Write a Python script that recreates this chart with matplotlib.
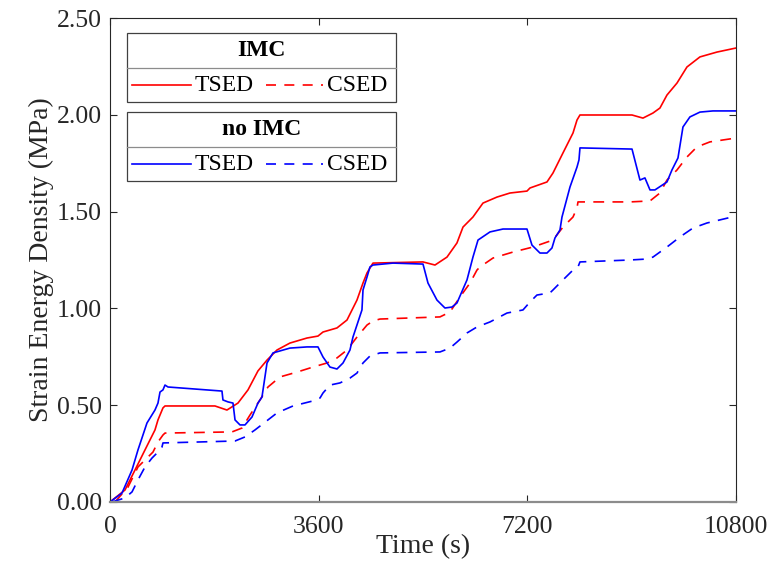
import matplotlib
matplotlib.use("Agg")
import matplotlib.pyplot as plt
from matplotlib.patches import Rectangle
from matplotlib.lines import Line2D

plt.rcParams["font.family"] = ["Liberation Serif", "DejaVu Serif"]
plt.rcParams["mathtext.fontset"] = "stix"

# IMC, tensile strain energy density (MPa) vs time (s)
imc_tsed_t = [0, 259, 431, 604, 776, 828, 914, 949, 1811, 2018, 2208, 2381, 2553, 2709,
              2881, 3105, 3399, 3588, 3675, 3916, 4089, 4261, 4365, 4434, 4537, 5400, 5607,
              5814, 5986, 6090, 6262, 6435, 6676, 6901, 7194, 7246, 7539, 7642, 7815, 7988,
              8057, 8108, 9006, 9195, 9367, 9488, 9609, 9782, 9954, 10178, 10471, 10800]
imc_tsed = [0, 0.062, 0.165, 0.269, 0.372, 0.424, 0.486, 0.496, 0.496, 0.475, 0.511, 0.579,
            0.677, 0.733, 0.785, 0.821, 0.847, 0.857, 0.878, 0.899, 0.940, 1.043, 1.131, 1.183,
            1.234, 1.240, 1.224, 1.265, 1.338, 1.420, 1.472, 1.544, 1.575, 1.596, 1.606, 1.622,
            1.653, 1.699, 1.803, 1.906, 1.973, 1.999, 1.999, 1.983, 2.009, 2.035, 2.102, 2.164,
            2.247, 2.299, 2.324, 2.345]

# IMC, compressive strain energy density
imc_csed_t = [86, 311, 397, 483, 604, 742, 828, 914, 949, 2105, 2277, 2415, 2588, 2726, 2933,
              3226, 3502, 3744, 3916, 4089, 4261, 4434, 4537, 4658, 5693, 5865, 6038, 6211,
              6331, 6383, 6607, 6952, 7297, 7642, 7815, 7988, 8057, 8074, 8971, 9316, 9488,
              9609, 9782, 9954, 10126, 10350, 10800]
imc_csed = [0, 0.077, 0.129, 0.181, 0.217, 0.258, 0.310, 0.346, 0.356, 0.362, 0.382, 0.449,
            0.527, 0.594, 0.646, 0.671, 0.697, 0.718, 0.744, 0.785, 0.852, 0.914, 0.935, 0.945,
            0.956, 0.981, 1.059, 1.131, 1.198, 1.214, 1.260, 1.291, 1.317, 1.353, 1.420, 1.472,
            1.519, 1.550, 1.550, 1.555, 1.596, 1.663, 1.715, 1.782, 1.834, 1.860, 1.880]

# no IMC, tensile
noimc_tsed_t = [0, 207, 380, 483, 638, 776, 828, 863, 914, 949, 1001, 1932, 1949, 2036, 2122,
                2157, 2243, 2329, 2450, 2553, 2622, 2709, 2812, 3105, 3399, 3588, 3675, 3795,
                3916, 4020, 4140, 4192, 4347, 4365, 4434, 4485, 4537, 4882, 5400, 5486, 5641,
                5779, 5900, 5986, 6159, 6262, 6349, 6556, 6780, 7194, 7280, 7418, 7539, 7625,
                7677, 7763, 7798, 7936, 8057, 8091, 8108, 9006, 9143, 9229, 9316, 9402, 9609,
                9695, 9799, 9885, 10005, 10178, 10402, 10800]
noimc_tsed = [0, 0.046, 0.165, 0.269, 0.408, 0.475, 0.511, 0.568, 0.579, 0.604, 0.594, 0.573,
              0.527, 0.517, 0.511, 0.424, 0.398, 0.398, 0.439, 0.511, 0.542, 0.718, 0.770,
              0.795, 0.801, 0.801, 0.749, 0.697, 0.687, 0.718, 0.785, 0.852, 0.992, 1.095,
              1.162, 1.214, 1.224, 1.234, 1.229, 1.131, 1.043, 1.002, 1.007, 1.028, 1.147,
              1.265, 1.353, 1.395, 1.410, 1.410, 1.327, 1.286, 1.286, 1.312, 1.364, 1.405,
              1.472, 1.627, 1.730, 1.767, 1.829, 1.823, 1.663, 1.674, 1.612, 1.612, 1.653,
              1.715, 1.777, 1.937, 1.989, 2.014, 2.020, 2.020]

# no IMC, compressive
noimc_csed_t = [35, 259, 380, 483, 604, 725, 828, 897, 914, 2157, 2329, 2501, 2726, 2881, 3157,
                3502, 3623, 3675, 3795, 3968, 4140, 4261, 4365, 4485, 4658, 5693, 5865, 5986,
                6159, 6331, 6556, 6849, 7125, 7246, 7366, 7590, 7642, 7815, 7988, 8074, 8108,
                8971, 9264, 9367, 9609, 9833, 10057, 10298, 10730]
noimc_csed = [0, 0.021, 0.052, 0.114, 0.181, 0.227, 0.258, 0.284, 0.305, 0.315, 0.336, 0.372,
              0.424, 0.460, 0.496, 0.522, 0.537, 0.563, 0.604, 0.615, 0.640, 0.666, 0.718,
              0.754, 0.770, 0.775, 0.795, 0.826, 0.873, 0.904, 0.930, 0.976, 0.992, 1.033,
              1.069, 1.080, 1.095, 1.147, 1.198, 1.214, 1.240, 1.250, 1.255, 1.265, 1.317,
              1.369, 1.415, 1.441, 1.472]

x_ticks = [0, 3600, 7200, 10800]
y_ticks = [0, 0.5, 1.0, 1.5, 2.0, 2.5]

red = "#ff0000"
blue = "#0000ff"
lw = 1.2
dash = (0, (6.5, 5))
fs_tick = 18.5
fs_label = 20
fs_leg = 17

fig = plt.figure(figsize=(7.74, 5.77), dpi=100)
ax = fig.add_axes([0.1421, 0.13, 0.8088, 0.8388])

ax.plot(imc_tsed_t, imc_tsed, color=red, lw=lw)
ax.plot(imc_csed_t, imc_csed, color=red, lw=lw, linestyle=dash)
ax.plot(noimc_tsed_t, noimc_tsed, color=blue, lw=lw)
ax.plot(noimc_csed_t, noimc_csed, color=blue, lw=lw, linestyle=dash)

ax.set_xlim(0, 10800)
ax.set_ylim(0, 2.5)
ax.set_xticks(x_ticks)
ax.set_xticklabels([str(t) for t in x_ticks])
ax.set_yticks(y_ticks)
ax.set_yticklabels([f"{v:.2f}" for v in y_ticks])
ax.tick_params(direction="in", length=5, width=0.8, top=True, right=True,
               labelsize=fs_tick, pad=6, colors="#262626")
ax.tick_params(axis="x", pad=10)
for side in ["left", "top", "right"]:
    ax.spines[side].set_color("#262626")
    ax.spines[side].set_linewidth(0.8)
ax.spines["bottom"].set_color("#8c8c8c")
ax.spines["bottom"].set_linewidth(1.6)

ax.set_xlabel("Time (s)", fontsize=fs_label, color="#262626", labelpad=-3)
ax.set_ylabel("Strain Energy Density (MPa)", fontsize=fs_label, color="#262626", labelpad=2)

# two MATLAB-style legend boxes with a title row
boxes = [
    ("IMC", red, 0.969, 0.897, 0.826),
    ("no IMC", blue, 0.806, 0.733, 0.663),
]
x0, x1 = 0.027, 0.457
for title, color, top, mid, bottom in boxes:
    ax.add_patch(Rectangle((x0, bottom), x1 - x0, top - bottom, transform=ax.transAxes,
                           facecolor="white", edgecolor="#404040", lw=0.9, zorder=5))
    ax.add_line(Line2D([x0, x1], [mid, mid], transform=ax.transAxes,
                       color="#8c8c8c", lw=0.9, zorder=6))
    ax.text((x0 + x1) / 2, (top + mid) / 2, title, transform=ax.transAxes, ha="center",
            va="center", fontsize=fs_leg, fontweight="bold", zorder=7)
    ye = (mid + bottom) / 2
    ax.add_line(Line2D([0.035, 0.129], [ye, ye], transform=ax.transAxes,
                       color=color, lw=lw, zorder=7))
    ax.text(0.135, ye, "TSED", transform=ax.transAxes, ha="left", va="center",
            fontsize=fs_leg, zorder=7)
    ax.add_line(Line2D([0.249, 0.340], [ye, ye], transform=ax.transAxes,
                       color=color, lw=lw, linestyle=(0, (6, 5)), zorder=7))
    ax.text(0.346, ye, "CSED", transform=ax.transAxes, ha="left", va="center",
            fontsize=fs_leg, zorder=7)

fig.savefig("out.png", dpi=100)
